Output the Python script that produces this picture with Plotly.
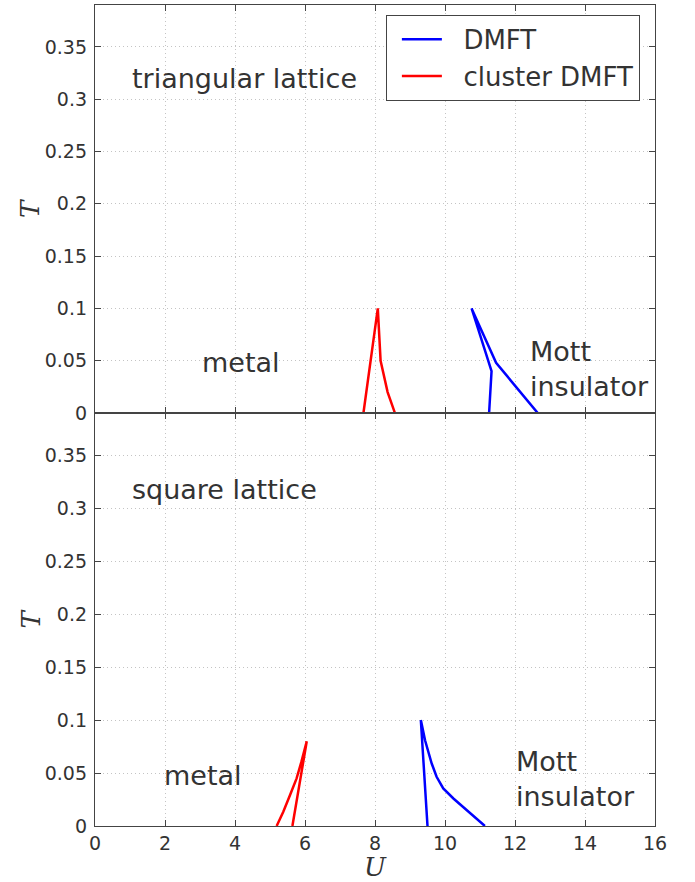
import plotly.graph_objects as go
from plotly.subplots import make_subplots

# ---- data ----
tri_dmft_U = [11.26, 11.33, 10.76, 11.46, 12.65]
tri_dmft_T = [0.0, 0.04, 0.1, 0.048, 0.0]
tri_cdmft_U = [7.67, 8.08, 8.16, 8.36, 8.57]
tri_cdmft_T = [0.0, 0.1, 0.05, 0.02, 0.0]

sq_dmft_U = [9.5, 9.31, 9.43, 9.62, 9.76, 9.95, 10.24, 10.62, 10.9, 11.14]
sq_dmft_T = [0.0, 0.1, 0.081, 0.059, 0.0465, 0.0355, 0.026, 0.015, 0.0073, 0.0]
sq_cdmft_U = [5.64, 6.05, 5.9, 5.76, 5.57, 5.38, 5.19]
sq_cdmft_T = [0.0, 0.08, 0.061, 0.045, 0.029, 0.0135, 0.0]

x_ticks = [0, 2, 4, 6, 8, 10, 12, 14, 16]
y_ticks = [0, 0.05, 0.1, 0.15, 0.2, 0.25, 0.3, 0.35]
y_tick_text = ["0", "0.05", "0.1", "0.15", "0.2", "0.25", "0.3", "0.35"]

BLUE = "#0000ff"
RED = "#ff0000"
TXT = "#333333"
AX = "#444444"

fig = make_subplots(rows=2, cols=1, shared_xaxes=True, vertical_spacing=0)

fig.add_trace(go.Scatter(x=tri_dmft_U, y=tri_dmft_T, mode="lines", name="&nbsp;&nbsp;DMFT",
                         line=dict(color=BLUE, width=2.5)), row=1, col=1)
fig.add_trace(go.Scatter(x=tri_cdmft_U, y=tri_cdmft_T, mode="lines", name="&nbsp;&nbsp;cluster DMFT",
                         line=dict(color=RED, width=2.5)), row=1, col=1)
fig.add_trace(go.Scatter(x=sq_dmft_U, y=sq_dmft_T, mode="lines", name="DMFT", showlegend=False,
                         line=dict(color=BLUE, width=2.5)), row=2, col=1)
fig.add_trace(go.Scatter(x=sq_cdmft_U, y=sq_cdmft_T, mode="lines", name="cluster DMFT", showlegend=False,
                         line=dict(color=RED, width=2.5)), row=2, col=1)

GRID_DASH = "1px,3px"
common_x = dict(range=[0, 16], tickvals=x_ticks, ticks="inside", ticklen=6, tickcolor=AX,
                showline=True, linecolor=AX, linewidth=1.3, mirror="allticks",
                showgrid=True, gridcolor="#c4c4c4", griddash=GRID_DASH, gridwidth=1,
                zeroline=False, tickfont=dict(family="DejaVu Sans", size=19, color=TXT))
common_y = dict(range=[0, 0.39], tickvals=y_ticks, ticktext=y_tick_text, ticks="inside", ticklen=6,
                tickcolor=AX, showline=True, linecolor=AX, linewidth=1.3, mirror="allticks",
                showgrid=True, gridcolor="#c4c4c4", griddash=GRID_DASH, gridwidth=1,
                zeroline=False, tickfont=dict(family="DejaVu Sans", size=19, color=TXT),
                ticklabelstandoff=3)

fig.update_xaxes(**common_x)
fig.update_xaxes(showticklabels=False, row=1, col=1)
fig.update_xaxes(title=dict(text="<i>U</i>", font=dict(family="DejaVu Serif", size=26, color=TXT),
                            standoff=4), row=2, col=1)
fig.update_yaxes(**common_y)
fig.update_layout(yaxis=dict(domain=[0.503, 1.0]), yaxis2=dict(domain=[0.0, 0.503]))

ann_font = dict(family="DejaVu Sans", size=27, color=TXT)
annotations = [
    dict(x=1.0, y=0.32, xref="x", yref="y", text="triangular lattice"),
    dict(x=3.0, y=0.048, xref="x", yref="y", text="metal"),
    dict(x=12.37, y=0.042, xref="x", yref="y", text="Mott<br>insulator"),
    dict(x=1.0, y=0.318, xref="x2", yref="y2", text="square lattice"),
    dict(x=1.9, y=0.048, xref="x2", yref="y2", text="metal"),
    dict(x=11.97, y=0.044, xref="x2", yref="y2", text="Mott<br>insulator"),
]
for a in annotations:
    fig.add_annotation(**a, showarrow=False, xanchor="left", yanchor="middle", align="left", font=ann_font)

# y-axis titles (rotated italic T) placed left of the tick labels
title_font = dict(family="DejaVu Serif", size=26, color=TXT)
fig.add_annotation(x=-0.116, y=0.5, xref="paper", yref="y domain", text="<i>T</i>", textangle=-90,
                   showarrow=False, xanchor="center", yanchor="middle", font=title_font)
fig.add_annotation(x=-0.116, y=0.5, xref="paper", yref="y2 domain", text="<i>T</i>", textangle=-90,
                   showarrow=False, xanchor="center", yanchor="middle", font=title_font)

fig.update_layout(
    width=695, height=882,
    margin=dict(l=95, r=40, t=5, b=56),
    paper_bgcolor="white", plot_bgcolor="white",
    legend=dict(x=0.973, y=0.988, xanchor="right", yanchor="top",
                bgcolor="white", bordercolor=AX, borderwidth=1, itemwidth=40,
                indentation=10, tracegroupgap=0,
                font=dict(family="DejaVu Sans", size=26, color=TXT)),
)

fig.write_html("out.html", config={"displayModeBar": False},
               post_script="document.body.style.margin='0';")
